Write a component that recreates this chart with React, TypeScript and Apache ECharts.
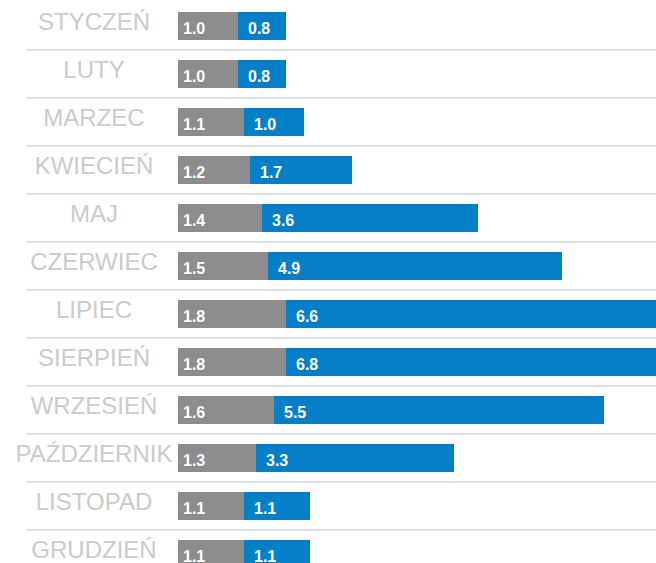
import { useEffect, useRef } from 'react';
import * as echarts from 'echarts';

const months = [
  'STYCZEŃ', 'LUTY', 'MARZEC', 'KWIECIEŃ', 'MAJ', 'CZERWIEC',
  'LIPIEC', 'SIERPIEŃ', 'WRZESIEŃ', 'PAŹDZIERNIK', 'LISTOPAD', 'GRUDZIEŃ',
];
const greyValues = [1.0, 1.0, 1.1, 1.2, 1.4, 1.5, 1.8, 1.8, 1.6, 1.3, 1.1, 1.1];
const blueValues = [0.8, 0.8, 1.0, 1.7, 3.6, 4.9, 6.6, 6.8, 5.5, 3.3, 1.1, 1.1];

const GREY = '#8d8d8f';
const BLUE = '#0580c8';

export default function App() {
  const ref = useRef<HTMLDivElement>(null);

  useEffect(() => {
    if (!ref.current) return;
    const chart = echarts.init(ref.current, null, { renderer: 'svg' });
    const valueLabel = (dist: number) => ({
      show: true,
      position: 'insideLeft' as const,
      distance: dist,
      offset: [0, 2],
      color: '#ffffff',
      fontWeight: 'bold' as const,
      fontSize: 16,
      fontFamily: "'Liberation Sans Narrow', 'Arial Narrow', 'Liberation Sans', Arial, sans-serif",
      formatter: (p: any) => Number(p.value).toFixed(1),
    });
    chart.setOption({
      animation: false,
      backgroundColor: '#ffffff',
      grid: {
        left: 27,
        right: 0,
        top: 2,
        height: 576,
        containLabel: false,
        outerBoundsMode: 'none',
      },
      xAxis: {
        type: 'value',
        min: -2.5167,
        max: 7.9667,
        show: false,
        splitLine: { show: false },
      },
      yAxis: {
        type: 'category',
        inverse: true,
        data: months,
        axisLine: { show: false },
        axisTick: { show: false },
        splitLine: {
          show: true,
          interval: (i: number) => i > 0,
          lineStyle: { color: '#dfdfdf', width: 2 },
        },
        axisLabel: {
          interval: 0,
          align: 'center',
          verticalAlign: 'bottom',
          lineHeight: 10,
          margin: -67,
          color: '#cbcbcb',
          fontSize: 24,
          fontFamily: "'Liberation Sans', Arial, sans-serif",
        },
      },
      series: [
        {
          type: 'bar',
          stack: 'total',
          data: greyValues,
          barWidth: 28,
          itemStyle: { color: GREY },
          label: valueLabel(5),
        },
        {
          type: 'bar',
          stack: 'total',
          data: blueValues,
          barWidth: 28,
          itemStyle: { color: BLUE },
          label: valueLabel(10),
        },
      ],
    });
    return () => chart.dispose();
  }, []);

  return (
    <div
      ref={ref}
      style={{ position: 'fixed', left: 0, top: 0, width: 656, height: 563, background: '#fff' }}
    />
  );
}
